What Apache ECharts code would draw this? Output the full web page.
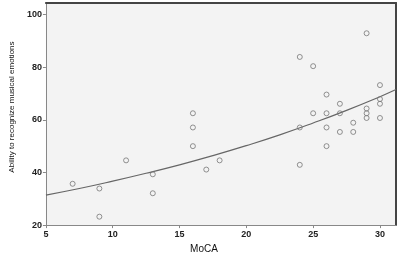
<!DOCTYPE html>
<html>
<head>
<meta charset="utf-8">
<script src="https://cdn.jsdelivr.net/npm/echarts@6/dist/echarts.min.js"></script>
<style>
  html, body { margin: 0; padding: 0; background: #fff; }
  #chart { width: 400px; height: 259px; }
</style>
</head>
<body>
<div id="chart"></div>
<script>
// MoCA score per participant
var mocaScores = [7, 9, 9, 11, 13, 13, 16, 16, 16, 17, 18, 24, 24, 24, 25, 25, 26, 26, 26, 26, 27, 27, 27, 28, 28, 29, 29, 29, 29, 30, 30, 30, 30];
// ability to recognize musical emotions (%)
var emotionScores = [35.7, 33.9, 23.2, 44.6, 39.3, 32.1, 62.5, 57.1, 50, 41.1, 44.6, 83.9, 57.1, 42.9, 80.4, 62.5, 69.6, 62.5, 57.1, 50, 66.1, 62.5, 55.4, 58.9, 55.4, 92.9, 64.3, 62.5, 60.7, 73.2, 67.9, 66.1, 60.7];
// fitted curve
var fitX = [5, 7.5, 10, 12.5, 15, 17.5, 20, 22.5, 25, 27.5, 30, 31.2];
var fitY = [31.4, 33.9, 36.7, 39.7, 42.9, 46.4, 50.2, 54.3, 58.8, 63.6, 68.8, 71.5];
var xTicks = [5, 10, 15, 20, 25, 30];
var yTicks = [20, 40, 60, 80, 100];

var chart = echarts.init(document.getElementById('chart'));

var points = mocaScores.map(function (m, i) { return [m, emotionScores[i]]; });
var curve = fitX.map(function (x, i) { return [x, fitY[i]]; });

var labelStyle = { color: '#222', fontSize: 9, fontFamily: 'Liberation Sans', fontWeight: 'bold' };

chart.setOption({
  animation: false,
  grid: {
    left: 33, top: 3, right: 4, bottom: 27,
    show: true, backgroundColor: '#f3f3f3', borderWidth: 0
  },
  xAxis: [{
    type: 'value', min: 5, max: 31.2,
    name: 'MoCA', nameLocation: 'middle', nameGap: 14,
    nameTextStyle: { color: '#111', fontSize: 10, fontFamily: 'Liberation Sans', padding: [0, 34, 0, 0] },
    splitLine: { show: false },
    axisLine: { show: true, lineStyle: { color: '#888', width: 1 } },
    axisTick: { length: 3, lineStyle: { color: '#888' }, customValues: xTicks },
    axisLabel: Object.assign({ margin: 5, customValues: xTicks }, labelStyle)
  }, {
    type: 'value', min: 5, max: 31.2, position: 'top',
    splitLine: { show: false },
    axisLine: { show: true, onZero: false, lineStyle: { color: '#444', width: 2 } },
    axisTick: { show: false }, axisLabel: { show: false }
  }],
  yAxis: [{
    type: 'value', min: 20, max: 104.4,
    name: 'Ability to recognize musical emotions', nameLocation: 'middle', nameGap: 23,
    nameTextStyle: { color: '#111', fontSize: 8, fontFamily: 'Liberation Sans', padding: [0, 0, 0, 14] },
    splitLine: { show: false },
    axisLine: { show: true, lineStyle: { color: '#888', width: 1 } },
    axisTick: { length: 3, lineStyle: { color: '#888' }, customValues: yTicks },
    axisLabel: Object.assign({ margin: 4, customValues: yTicks }, labelStyle)
  }, {
    type: 'value', min: 20, max: 104.4, position: 'right',
    splitLine: { show: false },
    axisLine: { show: true, onZero: false, lineStyle: { color: '#444', width: 2 } },
    axisTick: { show: false }, axisLabel: { show: false }
  }],
  series: [{
    type: 'line',
    data: curve,
    smooth: true,
    symbol: 'none',
    lineStyle: { color: '#666', width: 1.2 },
    z: 2
  }, {
    type: 'scatter',
    data: points,
    symbol: 'circle',
    symbolSize: 5,
    itemStyle: { color: 'rgba(255,255,255,0)', borderColor: '#777', borderWidth: 1 },
    z: 3
  }]
});
</script>
</body>
</html>
